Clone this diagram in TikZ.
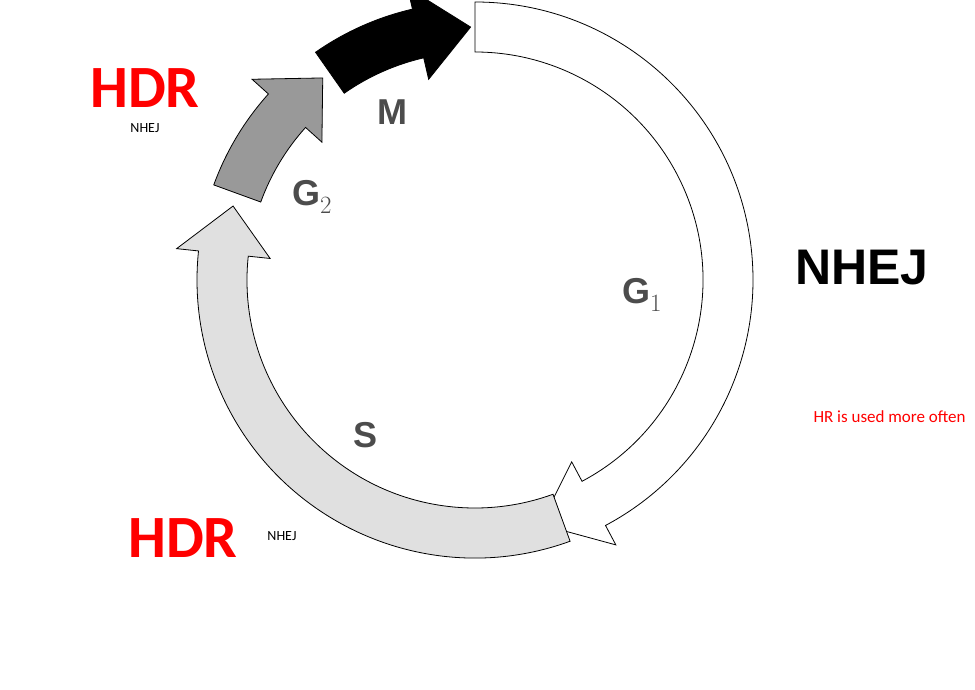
\documentclass[tikz,border=0pt]{standalone}
\usepackage{fontspec}
\setmainfont{Carlito}
\newfontfamily\arialf{Liberation Sans}
\begin{document}
\begin{tikzpicture}[x=1pt,y=1pt,
  band/.style={draw=black,line width=0.8pt,line join=miter},
  phase/.style={font=\arialf\bfseries\fontsize{36}{36}\selectfont,text=black!70},
  hdr/.style={font=\bfseries\fontsize{60}{60}\selectfont,text=red},
  small/.style={font=\fontsize{14}{14}\selectfont}]
\useasboundingbox (0,0) rectangle (975,-690);
\clip (0,0) rectangle (975,-690);
\fill[white] (0,0) rectangle (975,-690);
\newcommand\cyclearrow[5]{% start, body end, tip, fill
  \draw[band,fill=#4] ([shift={(475,-280)}]#1:278) arc[start angle=#1,end angle=#2,radius=278]
   -- ([shift={(475,-280)}]#2:300) -- ([shift={(475,-280)}]#3:253)
   -- ([shift={(475,-280)}]#2:206) -- ([shift={(475,-280)}]#2:228)
   arc[start angle=#2,end angle=#1,radius=228] -- cycle;}
\cyclearrow{90}{-62}{-75}{white}{}
\cyclearrow{-70}{-186}{-197}{black!12}{}
\cyclearrow{160}{138}{127}{black!40}{}
\cyclearrow{125}{103}{91}{black}{}
\node[phase] (m) at (392,-112) {M};
\node[phase] (g2) at (312,-197) {G$_2$};
\node[phase] (g1) at (642,-295) {G$_1$};
\node[phase] (s) at (366,-435) {S};
\node[hdr] (h1) at (145,-88) {HDR};
\node[small] (n1) at (145,-128) {NHEJ};
\node[hdr] (h2) at (183,-538) {HDR};
\node[small] (n2) at (282,-536) {NHEJ};
\node[font=\arialf\bfseries\fontsize{50}{50}\selectfont] (nb) at (862,-268) {NHEJ};
\node[anchor=west,text=red,font=\fontsize{17}{17}\selectfont] (hr) at (810,-417) {HR is used more often};
\end{tikzpicture}
\end{document}
